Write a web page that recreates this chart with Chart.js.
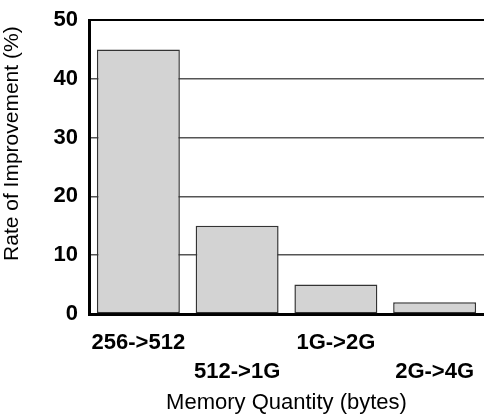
<!DOCTYPE html>
<html>
<head>
<meta charset="utf-8">
<script src="https://cdn.jsdelivr.net/npm/chart.js@4"></script>
<style>
  html, body { margin: 0; padding: 0; background: #fff; }
  #wrap { width: 484px; height: 416px; }
</style>
</head>
<body>
<div id="wrap"><canvas id="grafik"></canvas></div>
<script>
// veriler
var kategoriler = ['256->512', ['', '512->1G'], '1G->2G', ['', '2G->4G']];
var iyilesme = [45, 15, 5, 2];
var yMin = 0;
var yMax = 50;
var yAdim = 10;

var ctx = document.getElementById('grafik').getContext('2d');

var grafik = new Chart(ctx, {
    type: 'bar',
    data: {
        labels: kategoriler,
        datasets: [{
            data: iyilesme,
            backgroundColor: '#d3d3d3',
            borderColor: '#333333',
            borderWidth: 1.5,
            borderSkipped: false,
            barPercentage: 0.84,
            categoryPercentage: 1.0
        }]
    },
    options: {
        responsive: true,
        maintainAspectRatio: false,
        animation: false,
        layout: { padding: { top: 20, right: 0, left: 0, bottom: 0 } },
        plugins: {
            legend: { display: false },
            tooltip: { enabled: false }
        },
        scales: {
            x: {
                grid: { display: false, drawTicks: false },
                border: { display: true, color: '#000', width: 3 },
                ticks: {
                    color: '#000',
                    maxRotation: 0,
                    autoSkip: false,
                    padding: 14,
                    font: { family: 'Liberation Sans, Arial', size: 22, weight: 'bold', lineHeight: 1.32 }
                },
                title: {
                    display: true,
                    text: 'Memory Quantity (bytes)',
                    color: '#000',
                    padding: { top: 2, bottom: 0 },
                    font: { family: 'Liberation Sans, Arial', size: 22 }
                },
                afterFit: function (s) {
                    s.height = 102;
                    s.paddingLeft = 0;
                    s.paddingRight = 0;
                }
            },
            y: {
                min: yMin,
                max: yMax,
                grid: {
                    drawTicks: false,
                    color: function (c) { return c.tick && c.tick.value === yMax ? '#000' : '#555'; },
                    lineWidth: function (c) { return c.tick && c.tick.value === yMax ? 2 : 1.5; }
                },
                border: { display: true, color: '#000', width: 3 },
                ticks: {
                    stepSize: yAdim,
                    color: '#000',
                    padding: 11,
                    font: { family: 'Liberation Sans, Arial', size: 22, weight: 'bold' }
                },
                title: {
                    display: true,
                    text: '        Rate of Improvement (%)',
                    color: '#000',
                    padding: { top: 0, bottom: 4 },
                    font: { family: 'Liberation Sans, Arial', size: 21 }
                },
                afterFit: function (s) {
                    s.width = 89;
                    s.paddingTop = 0;
                }
            }
        }
    }
});
</script>
</body>
</html>
